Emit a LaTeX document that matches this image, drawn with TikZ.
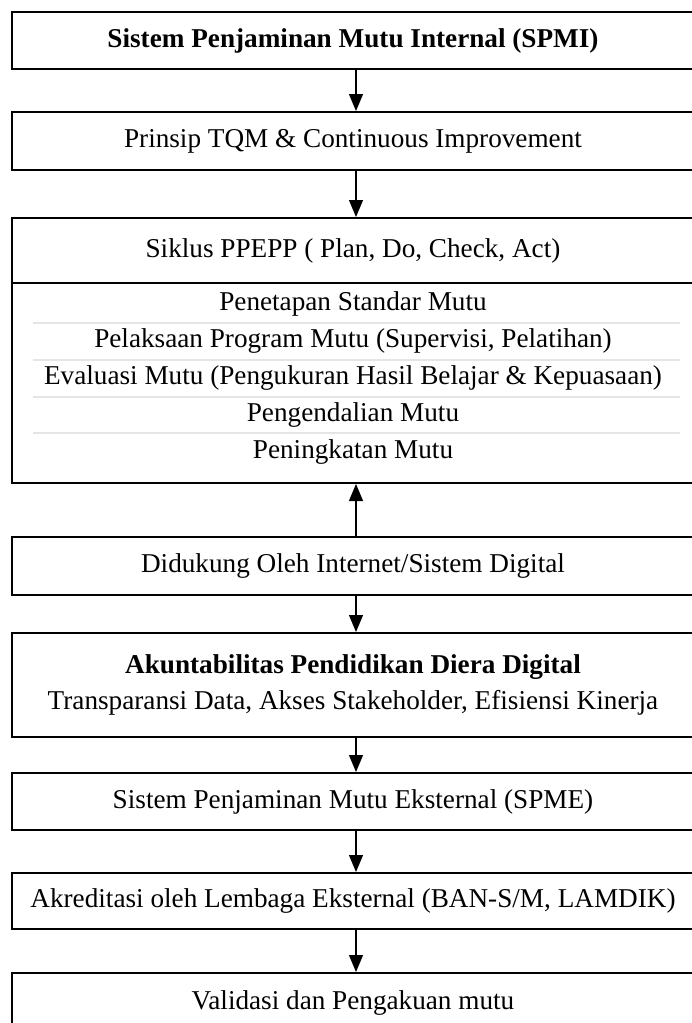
\documentclass[tikz,border=0pt]{standalone}
\usepackage{fontspec}
\setmainfont{Liberation Serif}
\usetikzlibrary{arrows.meta}
\tikzstyle{box} = [rectangle, minimum width=341pt, inner sep=0pt, text centered, draw=black, line width=1pt, font=\fontsize{13.6}{18}\selectfont]
\tikzstyle{item} = [inner sep=0pt, font=\fontsize{13.6}{18}\selectfont]
\tikzstyle{arrow} = [line width=0.6pt, -{Triangle[length=8.5pt,width=7pt]}]
\tikzstyle{rule} = [draw=black!10, line width=0.8pt]

\begin{document}
\begin{tikzpicture}[x=0.5pt, y=-0.5pt]
\useasboundingbox (0,0) rectangle (691,1023);

\node (spmi) [box, minimum height=28.5pt] at (353,40.5) {\textbf{Sistem Penjaminan Mutu Internal (SPMI)}};
\node (tqm) [box, minimum height=29pt] at (353,141) {Prinsip TQM \& Continuous Improvement};
\node (siklus) [box, minimum height=32.5pt] at (353,250.5) {Siklus PPEPP ( Plan, Do, Check, Act)};
\node (ppepp) [box, minimum height=100pt] at (353,383) {};
\node (digital) [box, minimum height=29pt] at (353,566) {Didukung Oleh Internet/Sistem Digital};
\node (akun) [box, minimum height=52pt, align=center] at (353,685) {\textbf{Akuntabilitas Pendidikan Diera Digital}\\Transparansi Data, Akses Stakeholder, Efisiensi Kinerja};
\node (spme) [box, minimum height=28.5pt] at (353,801.5) {Sistem Penjaminan Mutu Eksternal (SPME)};
\node (akred) [box, minimum height=28pt] at (353,901) {Akreditasi oleh Lembaga Eksternal (BAN-S/M, LAMDIK)};
\node (valid) [box, minimum height=30pt] at (353,1003) {Validasi dan Pengakuan mutu};

% isi siklus
\node (item1) [item] at (353,304) {Penetapan Standar Mutu};
\node (item2) [item] at (353,341) {Pelaksaan Program Mutu (Supervisi, Pelatihan)};
\node (item3) [item] at (353,378) {Evaluasi Mutu (Pengukuran Hasil Belajar \& Kepuasaan)};
\node (item4) [item] at (353,415) {Pengendalian Mutu};
\node (item5) [item] at (353,452) {Peningkatan Mutu};
\draw [rule] (33,323) -- (680,323);
\draw [rule] (33,360) -- (680,360);
\draw [rule] (33,397) -- (680,397);
\draw [rule] (33,433) -- (680,433);

\draw [arrow] ([xshift=1.5pt]spmi.south) -- ([xshift=1.5pt]tqm.north);
\draw [arrow] ([xshift=1.5pt]tqm.south) -- ([xshift=1.5pt]siklus.north);
\draw [arrow] ([xshift=1.5pt]digital.north) -- ([xshift=1.5pt]ppepp.south);
\draw [arrow] ([xshift=1.5pt]digital.south) -- ([xshift=1.5pt]akun.north);
\draw [arrow] ([xshift=1.5pt]akun.south) -- ([xshift=1.5pt]spme.north);
\draw [arrow] ([xshift=1.5pt]spme.south) -- ([xshift=1.5pt]akred.north);
\draw [arrow] ([xshift=1.5pt]akred.south) -- ([xshift=1.5pt]valid.north);

\end{tikzpicture}
\end{document}
